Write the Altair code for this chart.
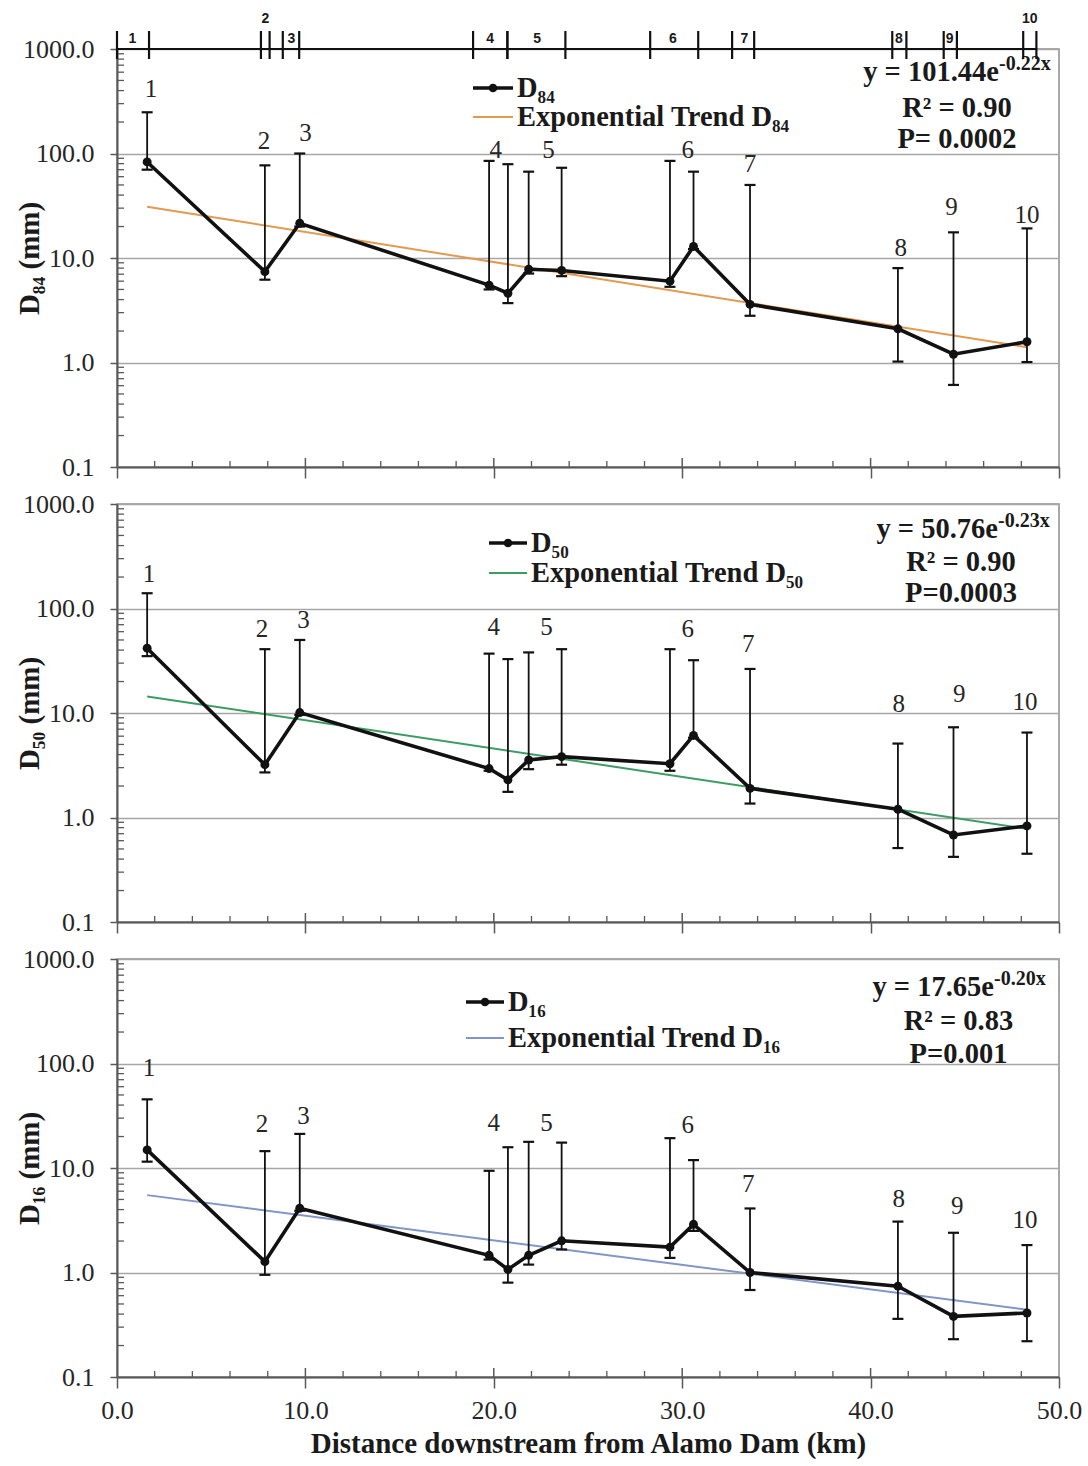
import altair as alt
import pandas as pd

# ---------------- data ----------------
dist_km = [1.6, 7.85, 9.7, 19.75, 20.75, 21.85, 23.6, 29.35, 30.6, 33.6, 41.45, 44.4, 48.3]

d84 = [83.0, 7.4, 21.5, 5.5, 4.6, 7.8, 7.6, 6.0, 12.9, 3.6, 2.1, 1.2, 1.58]
d84_hi = [248, 77, 100, 85, 79, 67, 73, 85, 67, 50, 8.0, 17.6, 19.2]
d84_lo = [70, 6.2, 20.0, 5.0, 3.7, 7.1, 6.7, 5.3, 12.2, 2.8, 1.02, 0.61, 1.01]

d50 = [41.7, 3.2, 10.1, 2.94, 2.29, 3.55, 3.82, 3.27, 6.1, 1.9, 1.2, 0.68, 0.83]
d50_hi = [140, 40.8, 50, 37, 32.8, 38, 40.8, 40.8, 32, 26.4, 5.1, 7.3, 6.5]
d50_lo = [35, 2.7, 9.6, 2.8, 1.76, 2.9, 3.2, 2.8, 5.8, 1.36, 0.51, 0.42, 0.45]

d16 = [14.9, 1.27, 4.12, 1.46, 1.07, 1.46, 2.01, 1.75, 2.89, 1.0, 0.74, 0.38, 0.41]
d16_hi = [45.4, 14.5, 21.2, 9.4, 15.8, 17.8, 17.5, 19.3, 11.9, 4.1, 3.07, 2.4, 1.83]
d16_lo = [11.5, 0.95, 3.9, 1.33, 0.8, 1.19, 1.66, 1.38, 2.5, 0.68, 0.36, 0.23, 0.22]

trend_x = [1.6, 48.3]
d84_trend = [31.0, 1.40]
d50_trend = [14.4, 0.78]
d16_trend = [5.5, 0.44]

site_ids = ["1", "2", "3", "4", "5", "6", "7", "8", "9", "10"]
lab_x_top = [1.8, 7.8, 10.0, 20.1, 22.9, 30.3, 33.6, 41.6, 44.3, 48.3]
lab_y_top = [410, 131, 157, 109, 109, 109, 80, 12.5, 30.7, 25.7]
lab_x_mid = [1.7, 7.7, 9.9, 20.0, 22.8, 30.3, 33.5, 41.5, 44.7, 48.2]
lab_y_mid = [215, 64, 77, 66, 66, 64, 46, 12.3, 15.2, 12.7]
lab_x_bot = [1.7, 7.7, 9.9, 20.0, 22.8, 30.3, 33.5, 41.5, 44.6, 48.2]
lab_y_bot = [90, 26.5, 31.4, 27, 27, 26, 7.0, 5.0, 4.3, 3.2]

# reach extents shown along the top of the upper panel
reach_start = [0.0, 7.64, 8.8, 18.9, 20.72, 28.3, 32.65, 41.15, 43.88, 48.1]
reach_end = [1.7, 8.1, 9.67, 20.72, 23.8, 30.85, 33.82, 41.9, 44.58, 48.8]
reach_label_x = [0.82, 7.87, 9.25, 19.8, 22.3, 29.5, 33.3, 41.5, 44.2, 48.45]
reach_label_raised = [False, True, False, False, False, False, False, False, False, True]

eq_main = ["y = 101.44e", "y = 50.76e", "y = 17.65e"]
eq_sup = ["-0.22x", "-0.23x", "-0.20x"]
eq_r2 = ["R² = 0.90", "R² = 0.90", "R² = 0.83"]
eq_p = ["P= 0.0002", "P=0.0003", "P=0.001"]

series_names = ["D₈₄", "D₅₀", "D₁₆"]
trend_colors = ["#E39A4F", "#3C9D63", "#8096C8"]

x_major = [0, 10, 20, 30, 40, 50]
x_minor = [2, 4, 6, 8, 12, 14, 16, 18, 22, 24, 26, 28, 32, 34, 36, 38, 42, 44, 46, 48]
y_major = [0.1, 1, 10, 100, 1000]
y_minor = [m * 10.0 ** e for e in range(-1, 3) for m in range(2, 10)]

# ---------------- layout / style ----------------
W, H = 942, 418
SERIF = "Liberation Serif"
AX = "#595959"
TXT = "#262626"
BIG = 28.5

x_scale = alt.Scale(domain=[0, 50], nice=False, zero=False)
y_scale = alt.Scale(type="log", domain=[0.1, 1000], nice=False)


def x_enc(field, bottom):
    common = dict(values=x_major, grid=False, tickSize=11, tickWidth=1.5, tickColor=AX,
                  domainColor=AX, domainWidth=2, labelFlush=False)
    if bottom:
        ax = alt.Axis(format=".1f", title="Distance downstream  from Alamo Dam (km)",
                      labelFont=SERIF, labelFontSize=26, labelColor=TXT, labelPadding=9,
                      titleFont=SERIF, titleFontSize=29, titleFontWeight="bold",
                      titleColor="#1a1a1a", titlePadding=6, **common)
    else:
        ax = alt.Axis(labels=False, title=None, **common)
    return alt.X(f"{field}:Q", scale=x_scale, axis=ax)


def y_enc(field, title):
    ax = alt.Axis(values=y_major, format=".1f", title=title, grid=True, gridColor="#a6a6a6",
                  gridWidth=1.5, tickSize=7, tickWidth=1.5, tickColor=AX, domainColor=AX,
                  domainWidth=2, labelFont=SERIF, labelFontSize=26, labelColor=TXT,
                  labelPadding=16, labelFlush=False, labelOverlap=False,
                  titleFont=SERIF, titleFontSize=29, titleFontWeight="bold",
                  titleColor="#1a1a1a", titleAngle=-90, titleX=-88, titleY=H / 2,
                  titleBaseline="middle", titleAlign="center")
    return alt.Y(f"{field}:Q", scale=y_scale, axis=ax)


def one(**kw):
    return pd.DataFrame({k: [v] for k, v in kw.items()})


def panel(i, vals, hi, lo, trend, lab_x, lab_y, legend, eq, bottom=False, reach=False):
    name = series_names[i]
    ytitle = f"{name} (mm)"
    color = trend_colors[i]
    X = lambda f: x_enc(f, bottom)
    Y = lambda f: y_enc(f, ytitle)

    df = pd.DataFrame({"x": dist_km, "y": vals, "hi": hi, "lo": lo})
    tdf = pd.DataFrame({"x": trend_x, "y": trend})
    ldf = pd.DataFrame({"x": lab_x, "y": lab_y, "t": site_ids})

    layers = []
    # minor ticks (inside the plot)
    layers.append(alt.Chart(pd.DataFrame({"y": y_minor})).mark_rule(color=AX, strokeWidth=1.3)
                  .encode(x=alt.value(0), x2=alt.value(7), y=Y("y")))
    layers.append(alt.Chart(pd.DataFrame({"x": x_minor})).mark_rule(color=AX, strokeWidth=1.3)
                  .encode(x=X("x"), y=alt.value(H - 6), y2=alt.value(H)))
    layers.append(alt.Chart(pd.DataFrame({"x": x_major[1:-1]})).mark_rule(color=AX, strokeWidth=1.5)
                  .encode(x=X("x"), y=alt.value(H - 9), y2=alt.value(H)))
    # trend
    layers.append(alt.Chart(tdf).mark_line(color=color, strokeWidth=2)
                  .encode(x=X("x"), y=Y("y")))
    # error bars
    layers.append(alt.Chart(df).mark_rule(color="#111111", strokeWidth=1.8)
                  .encode(x=X("x"), y=Y("lo"), y2="hi:Q"))
    for f in ["hi", "lo"]:
        layers.append(alt.Chart(df).mark_tick(orient="horizontal", size=11, thickness=2.2,
                                              color="#111111", opacity=1)
                      .encode(x=X("x"), y=Y(f)))
    # main series
    layers.append(alt.Chart(df).mark_line(color="#111111", strokeWidth=3.6)
                  .encode(x=X("x"), y=Y("y")))
    layers.append(alt.Chart(df).mark_point(filled=True, size=80, color="#111111", opacity=1)
                  .encode(x=X("x"), y=Y("y")))
    # site labels
    layers.append(alt.Chart(ldf).mark_text(font=SERIF, fontSize=25, color=TXT, baseline="middle")
                  .encode(x=X("x"), y=Y("y"), text="t:N"))

    # legend
    lx0, lx1, tx, ly1, ly2 = legend
    layers.append(alt.Chart(one(a=0)).mark_rule(color="#111111", strokeWidth=3.5)
                  .encode(x=alt.value(lx0), x2=alt.value(lx1), y=alt.value(ly1)))
    layers.append(alt.Chart(one(a=0)).mark_point(filled=True, size=75, color="#111111", opacity=1)
                  .encode(x=alt.value((lx0 + lx1) / 2), y=alt.value(ly1)))
    layers.append(alt.Chart(one(a=0)).mark_rule(color=color, strokeWidth=2)
                  .encode(x=alt.value(lx0), x2=alt.value(lx1), y=alt.value(ly2)))
    layers.append(alt.Chart(one(t=name)).mark_text(font=SERIF, fontSize=BIG, fontWeight="bold",
                                                   color="#1a1a1a", align="left", baseline="middle")
                  .encode(x=alt.value(tx), y=alt.value(ly1), text="t:N"))
    layers.append(alt.Chart(one(t=f"Exponential Trend {name}")).mark_text(
        font=SERIF, fontSize=BIG, fontWeight="bold", color="#1a1a1a", align="left", baseline="middle")
        .encode(x=alt.value(tx), y=alt.value(ly2), text="t:N"))

    # equation block
    cx, split, b1, b2, b3 = eq
    etxt = dict(font=SERIF, fontSize=BIG, fontWeight="bold", color="#1a1a1a", baseline="alphabetic")
    layers.append(alt.Chart(one(t=eq_main[i])).mark_text(align="right", **etxt)
                  .encode(x=alt.value(split), y=alt.value(b1), text="t:N"))
    layers.append(alt.Chart(one(t=eq_sup[i])).mark_text(font=SERIF, fontSize=20, fontWeight="bold",
                                                        color="#1a1a1a", baseline="alphabetic",
                                                        align="left")
                  .encode(x=alt.value(split), y=alt.value(b1 - 11), text="t:N"))
    layers.append(alt.Chart(one(t=eq_r2[i])).mark_text(align="center", **etxt)
                  .encode(x=alt.value(cx), y=alt.value(b2), text="t:N"))
    layers.append(alt.Chart(one(t=eq_p[i])).mark_text(align="center", **etxt)
                  .encode(x=alt.value(cx), y=alt.value(b3), text="t:N"))

    if reach:
        rdf = pd.DataFrame({"s": reach_start, "e": reach_end, "lx": reach_label_x,
                            "t": site_ids, "raised": reach_label_raised})
        bar = one(a=min(reach_start), b=max(reach_end))
        layers.append(alt.Chart(bar).mark_rule(color="#111111", strokeWidth=2)
                      .encode(x=X("a"), x2="b:Q", y=alt.value(0)))
        for f in ["s", "e"]:
            layers.append(alt.Chart(rdf).mark_rule(color="#111111", strokeWidth=2.2)
                          .encode(x=X(f), y=alt.value(-18), y2=alt.value(10)))
        rtxt = dict(font="Liberation Sans", fontSize=14, fontWeight="bold", color="#1a1a1a",
                    baseline="middle")
        layers.append(alt.Chart(rdf).transform_filter("!datum.raised").mark_text(**rtxt)
                      .encode(x=X("lx"), y=alt.value(-10), text="t:N"))
        layers.append(alt.Chart(rdf).transform_filter("datum.raised").mark_text(**rtxt)
                      .encode(x=X("lx"), y=alt.value(-30), text="t:N"))
        # invisible anchor that fixes the page origin of the plot area
        layers.append(alt.Chart(one(a=0)).mark_rule(opacity=0, strokeWidth=0.1)
                      .encode(x=alt.value(-116), x2=alt.value(-115), y=alt.value(-47.7),
                              y2=alt.value(-46.7)))

    return alt.layer(*layers).properties(width=W, height=H)


top = panel(0, d84, d84_hi, d84_lo, d84_trend, lab_x_top, lab_y_top,
            legend=(356, 396, 400, 39, 68), eq=(840, 882, 32, 67.5, 98.5), reach=True)
mid = panel(1, d50, d50_hi, d50_lo, d50_trend, lab_x_mid, lab_y_mid,
            legend=(372, 410, 414, 39, 69), eq=(844, 881, 34, 67, 98))
bot = panel(2, d16, d16_hi, d16_lo, d16_trend, lab_x_bot, lab_y_bot,
            legend=(349, 387, 391, 43, 79), eq=(841.5, 877, 37, 71, 104), bottom=True)

chart = (alt.vconcat(top, mid, bot, spacing=37, bounds="flush")
         .properties(padding={"left": 0, "top": 0, "right": 5, "bottom": 5}, background="white")
         .configure_view(stroke="#8c8c8c", strokeWidth=1.5))

chart.save("out.html", embed_options={"renderer": "svg", "actions": False})
